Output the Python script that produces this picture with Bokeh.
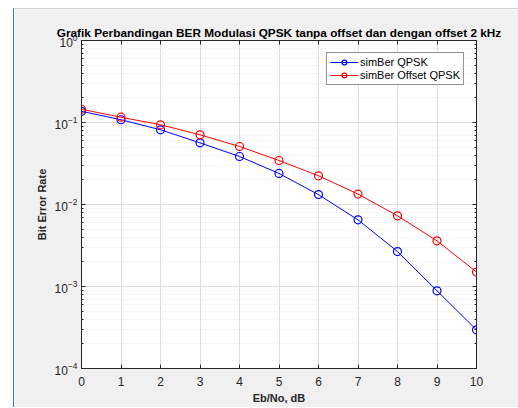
from bokeh.plotting import figure
from bokeh.models import (LinearAxis, LogAxis, FixedTicker, Range1d, Legend, LegendItem, Title,
                          CustomJSTickFormatter)
from bokeh.embed import file_html
from bokeh.resources import INLINE

ebno = [0, 1, 2, 3, 4, 5, 6, 7, 8, 9, 10]
ber_qpsk = [0.137, 0.108, 0.0815, 0.0565, 0.0385, 0.0239, 0.0132, 0.0065, 0.00267, 0.000886, 0.000296]
ber_offset = [0.145, 0.116, 0.0938, 0.0708, 0.051, 0.0344, 0.0224, 0.0134, 0.00728, 0.00361, 0.0015]
x_ticks = list(range(0, 11))
y_decades = [-4, -3, -2, -1, 0]

major_y = [10.0 ** e for e in y_decades]
minor_y = [m * 10.0 ** e for e in y_decades[:-1] for m in range(2, 10)]

FONT = "Liberation Sans"
TXT = "#262626"
GRID = "#dedede"

p = figure(frame_width=395, frame_height=328, y_axis_type="log",
           x_range=Range1d(0, 10), y_range=Range1d(1e-4, 1e0),
           output_backend="svg", toolbar_location=None,
           min_border_left=67, min_border_right=42, min_border_top=31, min_border_bottom=39,
           background_fill_color="white", border_fill_color="#f0f0f0",
           x_axis_location=None, y_axis_location=None)
p.margin = (8, 0, 0, 13)
p.styles = {"border-left": "1px solid #2b7cd3", "border-top": "1px solid #cfcfcf"}

p.title = Title(text="Grafik Perbandingan BER Modulasi QPSK tanpa offset dan dengan offset 2 kHz",
                align="center", text_font=FONT, text_font_size="11.8px", text_font_style="bold",
                text_color="black", standoff=2, offset=0)

xt = FixedTicker(ticks=x_ticks)
yt = FixedTicker(ticks=major_y, minor_ticks=minor_y)

def style_axis(ax, labels=True):
    ax.axis_line_color = TXT
    ax.axis_line_width = 1
    ax.major_tick_in = 4
    ax.major_tick_out = 0
    ax.minor_tick_in = 2
    ax.minor_tick_out = 0
    ax.major_tick_line_color = TXT
    ax.minor_tick_line_color = TXT
    ax.major_label_text_font = FONT
    ax.major_label_text_font_size = "12px"
    ax.major_label_text_color = TXT
    ax.axis_label_text_font = FONT
    ax.axis_label_text_font_size = "11px"
    ax.axis_label_text_font_style = "bold"
    ax.axis_label_text_color = TXT
    if not labels:
        ax.formatter = CustomJSTickFormatter(code="return '';")
        ax.major_label_standoff = 0

bx = LinearAxis(ticker=xt, axis_label="Eb/No, dB")
style_axis(bx)
bx.major_label_standoff = 8
bx.axis_label_standoff = 3
bx.minor_tick_in = 0
p.add_layout(bx, "below")

tx = LinearAxis(ticker=xt)
style_axis(tx, labels=False)
tx.minor_tick_in = 0
p.add_layout(tx, "above")

ly = LogAxis(ticker=yt, axis_label="Bit Error Rate")
style_axis(ly)
ly.major_label_standoff = 4
ly.axis_label_standoff = 4
p.add_layout(ly, "left")

ry = LogAxis(ticker=yt)
style_axis(ry, labels=False)
p.add_layout(ry, "right")

p.xgrid.ticker = xt
p.ygrid.ticker = yt
p.xgrid.grid_line_color = GRID
p.ygrid.grid_line_color = GRID
p.ygrid.minor_grid_line_color = "#e6e6e6"
p.ygrid.minor_grid_line_dash = "1 2"
p.outline_line_color = TXT

l1 = p.line(ebno, ber_qpsk, line_color="#0000ff", line_width=1)
c1 = p.scatter(ebno, ber_qpsk, marker="circle", size=8, fill_color=None, line_color="#0000ff", line_width=1.2)
l2 = p.line(ebno, ber_offset, line_color="#ff0000", line_width=1)
c2 = p.scatter(ebno, ber_offset, marker="circle", size=8, fill_color=None, line_color="#ff0000", line_width=1.2)

legend = Legend(items=[LegendItem(label="simBer QPSK", renderers=[l1, c1]),
                       LegendItem(label="simBer Offset QPSK", renderers=[l2, c2])],
                location="top_right", margin=12, padding=3, spacing=1,
                glyph_width=28, glyph_height=12, label_standoff=2,
                label_text_font=FONT, label_text_font_size="11px", label_text_color="black",
                border_line_color="#262626", border_line_width=1,
                background_fill_color="white", background_fill_alpha=1)
p.add_layout(legend, "center")

open("out.html", "w").write(file_html(p, INLINE))
